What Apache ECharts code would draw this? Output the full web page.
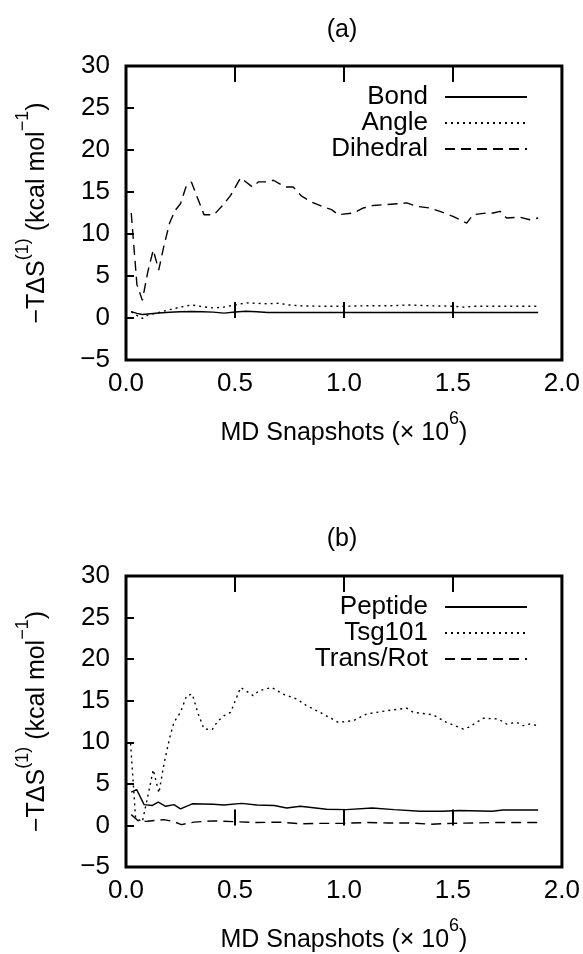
<!DOCTYPE html>
<html>
<head>
<meta charset="utf-8">
<script src="https://cdn.jsdelivr.net/npm/echarts@6/dist/echarts.min.js"></script>
<style>
  html, body { margin: 0; padding: 0; background: #fff; }
  #chart { width: 583px; height: 954px; }
</style>
</head>
<body>
<div id="chart"></div>
<script>
  // panel (a): [snapshots x 1e6, -TdS]
  var bondA = [[0.024,0.75],[0.05,0.55],[0.075,0.42],[0.1,0.48],[0.15,0.6],[0.2,0.68],[0.25,0.75],[0.3,0.78],[0.35,0.75],[0.4,0.7],[0.45,0.58],[0.5,0.72],[0.55,0.8],[0.6,0.75],[0.65,0.65],[0.8,0.65],[1.0,0.65],[1.2,0.65],[1.4,0.65],[1.6,0.65],[1.891,0.65]];
  var angleA = [[0.024,0.75],[0.05,0.3],[0.075,-0.05],[0.1,0.35],[0.15,0.65],[0.2,1.0],[0.25,1.3],[0.3,1.55],[0.35,1.35],[0.4,1.2],[0.45,1.3],[0.5,1.55],[0.55,1.8],[0.6,1.75],[0.65,1.7],[0.7,1.75],[0.75,1.55],[0.8,1.45],[0.9,1.4],[1.0,1.4],[1.1,1.45],[1.2,1.45],[1.3,1.55],[1.4,1.45],[1.5,1.4],[1.55,1.3],[1.6,1.4],[1.7,1.4],[1.8,1.4],[1.891,1.4]];
  var dihedralA = [[0.024,12.5],[0.05,4.0],[0.075,2.1],[0.1,5.5],[0.125,8.1],[0.15,5.7],[0.175,8.7],[0.2,11.3],[0.225,12.8],[0.25,13.6],[0.275,15.6],[0.3,16.2],[0.325,14.5],[0.358,12.3],[0.404,12.3],[0.45,13.6],[0.48,14.6],[0.526,16.7],[0.58,15.6],[0.607,16.2],[0.645,16.2],[0.676,16.4],[0.729,15.6],[0.767,15.6],[0.806,14.5],[0.852,13.8],[0.898,13.3],[0.943,12.9],[0.974,12.3],[1.043,12.5],[1.089,13.1],[1.134,13.4],[1.196,13.5],[1.288,13.7],[1.333,13.3],[1.394,13.1],[1.44,12.7],[1.5,12.1],[1.563,11.3],[1.593,12.3],[1.655,12.5],[1.685,12.5],[1.716,12.7],[1.746,11.9],[1.807,12.0],[1.853,11.7],[1.891,11.9]];

  // panel (b)
  var peptideB = [[0.024,4.0],[0.049,4.3],[0.083,2.5],[0.121,2.4],[0.148,2.8],[0.182,2.3],[0.22,2.5],[0.25,2.0],[0.304,2.6],[0.4,2.55],[0.45,2.45],[0.53,2.65],[0.6,2.45],[0.68,2.4],[0.737,2.1],[0.8,2.3],[0.92,1.95],[1.01,1.9],[1.13,2.1],[1.23,1.9],[1.35,1.7],[1.45,1.7],[1.53,1.8],[1.68,1.7],[1.73,1.85],[1.891,1.85]];
  var tsg101B = [[0.021,9.85],[0.044,0.9],[0.075,0.45],[0.1,3.5],[0.125,6.7],[0.151,3.9],[0.175,7.5],[0.2,10.5],[0.22,12.4],[0.25,13.6],[0.278,15.6],[0.304,15.8],[0.33,13.5],[0.358,11.6],[0.396,11.55],[0.42,12.5],[0.45,13.2],[0.48,13.6],[0.526,16.6],[0.584,15.6],[0.61,16.2],[0.668,16.6],[0.72,15.8],[0.783,15.2],[0.829,14.4],[0.89,13.6],[0.974,12.4],[1.043,12.6],[1.104,13.4],[1.196,13.8],[1.288,14.1],[1.318,13.6],[1.41,13.3],[1.47,12.4],[1.548,11.6],[1.571,11.8],[1.64,12.9],[1.708,12.8],[1.746,12.2],[1.792,12.4],[1.822,12.0],[1.853,12.2],[1.891,12.0]];
  var transRotB = [[0.024,1.3],[0.06,0.45],[0.098,0.5],[0.174,0.7],[0.22,0.45],[0.254,0.1],[0.312,0.4],[0.4,0.55],[0.5,0.45],[0.6,0.35],[0.7,0.4],[0.8,0.2],[0.9,0.25],[1.0,0.25],[1.1,0.35],[1.2,0.3],[1.3,0.3],[1.4,0.15],[1.5,0.25],[1.6,0.3],[1.7,0.35],[1.891,0.35]];

  var namesA = ['Bond', 'Angle', 'Dihedral'];
  var namesB = ['Peptide', 'Tsg101', 'Trans/Rot'];

  var FONT = 'Liberation Sans';
  var richName = {
    b: { fontFamily: FONT, fontSize: 25, color: '#000', lineHeight: 36, verticalAlign: 'bottom' },
    s: { fontFamily: FONT, fontSize: 18, color: '#000', lineHeight: 18, verticalAlign: 'top' }
  };

  function xAxes(gi) {
    return [{
      gridIndex: gi, type: 'value', min: 0, max: 2, interval: 0.5,
      axisLine: { show: false }, splitLine: { show: false },
      axisTick: { inside: true, length: 16, lineStyle: { color: '#000', width: 2 } },
      axisLabel: { fontFamily: FONT, fontSize: 26, color: '#000', margin: 11,
        formatter: function (v) { return v.toFixed(1); } },
      name: '{b|MD Snapshots (\u00d7 10}{s|6}{b|)}',
      nameLocation: 'middle', nameGap: 50,
      nameTextStyle: { rich: richName }
    }, {
      gridIndex: gi, type: 'value', min: 0, max: 2, interval: 0.5, position: 'top',
      axisLine: { show: false }, splitLine: { show: false }, axisLabel: { show: false },
      axisTick: { inside: true, length: 16, lineStyle: { color: '#000', width: 2 } }
    }];
  }

  function yAxis(gi) {
    return {
      gridIndex: gi, type: 'value', min: -5, max: 30, interval: 5,
      axisLine: { show: false }, splitLine: { show: false },
      axisTick: { inside: true, length: 8, lineStyle: { color: '#000', width: 2 } },
      axisLabel: { fontFamily: FONT, fontSize: 26, color: '#000', margin: 16,
        formatter: function (v) { return v < 0 ? '\u2212' + Math.abs(v) : String(v); } },
      name: '{b|\u2212T\u0394S}{s|(1)}{b| (kcal mol}{s|\u22121}{b|)}',
      nameLocation: 'middle', nameRotate: 90, nameGap: 76,
      nameTextStyle: { rich: richName }
    };
  }

  function line(name, data, xi, yi, dash) {
    return {
      name: name, type: 'line', xAxisIndex: xi, yAxisIndex: yi, data: data,
      symbol: 'none', smooth: false, silent: true,
      lineStyle: { color: '#000', width: 1.4, type: dash },
      itemStyle: { color: '#000' }
    };
  }

  function legend(names, top) {
    return {
      data: names, orient: 'vertical', right: 55, top: top, align: 'right',
      itemWidth: 82, itemHeight: 10, itemGap: 0, padding: 0,
      itemStyle: { opacity: 0 },
      textStyle: { fontFamily: FONT, fontSize: 26, color: '#000', lineHeight: 26, padding: [0, 12, 0, 0] },
      selectedMode: false
    };
  }

  var chart = echarts.init(document.getElementById('chart'));
  chart.setOption({
    animation: false,
    backgroundColor: '#fff',
    title: [
      { text: '(a)', left: 342, top: 18, textAlign: 'center', padding: 0,
        textStyle: { fontFamily: FONT, fontSize: 25, fontWeight: 'normal', color: '#000' } },
      { text: '(b)', left: 342, top: 527, textAlign: 'center', padding: 0,
        textStyle: { fontFamily: FONT, fontSize: 25, fontWeight: 'normal', color: '#000' } }
    ],
    grid: [
      { left: 126, top: 66, width: 436, height: 294, show: true, borderColor: '#000', borderWidth: 3 },
      { left: 126, top: 576, width: 436, height: 293, show: true, borderColor: '#000', borderWidth: 3 }
    ],
    xAxis: xAxes(0).concat(xAxes(1)),
    yAxis: [yAxis(0), yAxis(1)],
    legend: [legend(namesA, 84), legend(namesB, 594)],
    series: [
      line('Bond', bondA, 0, 0, 'solid'),
      line('Angle', angleA, 0, 0, [2, 4]),
      line('Dihedral', dihedralA, 0, 0, [10, 6]),
      line('Peptide', peptideB, 2, 1, 'solid'),
      line('Tsg101', tsg101B, 2, 1, [2, 4]),
      line('Trans/Rot', transRotB, 2, 1, [10, 6])
    ]
  });
</script>
</body>
</html>
